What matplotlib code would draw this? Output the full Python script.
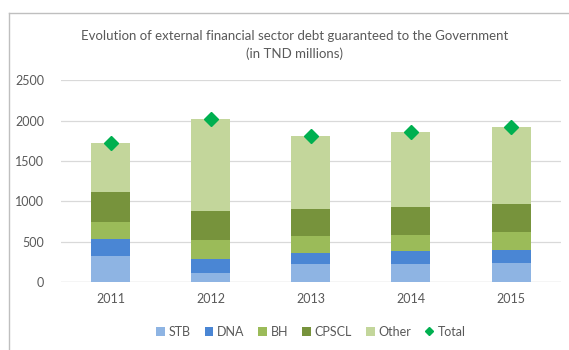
import matplotlib.pyplot as plt
import numpy as np
from matplotlib.lines import Line2D

plt.rcParams['font.family'] = ['Lato', 'DejaVu Sans']

years = ['2011', '2012', '2013', '2014', '2015']
stb = [320, 110, 220, 220, 240]
dna = [210, 180, 145, 160, 155]
bh = [220, 225, 210, 200, 220]
cpscl = [360, 360, 330, 355, 350]
other = [610, 1145, 900, 925, 960]

series = [('STB', stb, '#8EB4E3'),
          ('DNA', dna, '#4A86D4'),
          ('BH', bh, '#9BBB59'),
          ('CPSCL', cpscl, '#77933C'),
          ('Other', other, '#C3D69B')]

grey = '#595959'

fig = plt.figure(figsize=(5.69, 3.5), dpi=100)
ax = fig.add_axes([0.107, 0.194, 0.879, 0.577])

x = np.arange(len(years))
bottom = np.zeros(len(years))
handles = []
for name, vals, col in series:
    b = ax.bar(x, vals, 0.39, bottom=bottom, color=col, label=name, zorder=2)
    handles.append(b)
    bottom += np.array(vals)

ax.plot(x, bottom, linestyle='none', marker='D', markersize=7.5,
        color='#00B050', zorder=3)
handles.append(Line2D([], [], linestyle='none', marker='D', markersize=4.5,
                      color='#00B050'))
labels = [s[0] for s in series] + ['Total']

ax.set_xlim(-0.5, 4.5)
ax.set_ylim(0, 2500)
ax.set_yticks(range(0, 2501, 500))
ax.set_xticks(x)
ax.set_xticklabels(years)
ax.grid(axis='y', color='#D9D9D9', linewidth=0.9, zorder=0)
ax.tick_params(length=0, labelsize=9, colors=grey, pad=8)
ax.tick_params(axis='y', pad=12)
for s in ax.spines.values():
    s.set_visible(False)
ax.axhline(0, color='#D9D9D9', linewidth=0.9, zorder=1)

fig.text(0.518, 0.897, 'Evolution of external financial sector debt guaranteed to the Government',
         ha='center', va='center', fontsize=9.5, color=grey)
fig.text(0.518, 0.846, '(in TND millions)', ha='center', va='center',
         fontsize=9.5, color=grey)

ax.legend(handles, labels, loc='center', bbox_to_anchor=(0.5, -0.245), ncol=6,
          frameon=False, fontsize=9, labelcolor=grey, handlelength=0.7,
          handleheight=0.7, handletextpad=0.3, columnspacing=1.1)

# frame edges
fig.add_artist(Line2D([0.016, 1], [0.963, 0.963], color='#BFBFBF', linewidth=1))
fig.add_artist(Line2D([0.016, 0.016], [0, 0.963], color='#BFBFBF', linewidth=1))

fig.savefig('out.png', dpi=100)
